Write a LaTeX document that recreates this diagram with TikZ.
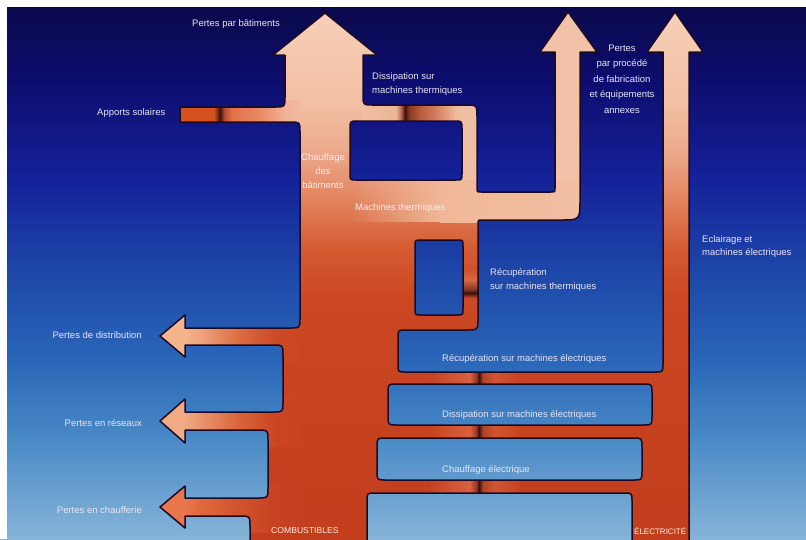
\documentclass[tikz,border=0pt]{standalone}
\usepackage{fontspec}
\setmainfont{Liberation Sans}
\usetikzlibrary{fadings}
% background colours (bottom -> top)
\definecolor{bgA}{HTML}{86B4D8}
\definecolor{bgB}{HTML}{4A8AC6}
\definecolor{bgC}{HTML}{2A66B8}
\definecolor{bgD}{HTML}{1E4AAA}
\definecolor{bgE}{HTML}{15229A}
\definecolor{bgF}{HTML}{0D0D6E}
\definecolor{bgG}{HTML}{0A0848}
% flow colours (bottom -> top)
\definecolor{cA}{HTML}{C23E1C}
\definecolor{cB}{HTML}{CB4722}
\definecolor{cC}{HTML}{D45A30}
\definecolor{cD}{HTML}{E2845E}
\definecolor{cE}{HTML}{ECAA8C}
\definecolor{cF}{HTML}{F2C0A4}
\definecolor{cG}{HTML}{F6CFB8}
\definecolor{peach}{HTML}{F2C2A8}
\definecolor{peachB}{HTML}{F0BEA2}
\definecolor{darkmark}{HTML}{3A1210}
\definecolor{outc}{HTML}{1C0A24}
\definecolor{labelc}{HTML}{E8E4F6}
\definecolor{labelw}{HTML}{FBEFEA}
% loss arrows
\definecolor{dA}{HTML}{F3B48C}\definecolor{dB}{HTML}{EFA47C}\definecolor{dC}{HTML}{DC6A40}\definecolor{dD}{HTML}{CC4A24}\definecolor{dE}{HTML}{CA4622}
\definecolor{rA}{HTML}{F0AA84}\definecolor{rB}{HTML}{EA9670}\definecolor{rC}{HTML}{D86238}\definecolor{rD}{HTML}{CA4622}\definecolor{rE}{HTML}{C84420}
\definecolor{hA}{HTML}{E8764A}\definecolor{hB}{HTML}{E06A3C}\definecolor{hC}{HTML}{D0522A}\definecolor{hD}{HTML}{C64220}\definecolor{hE}{HTML}{C44020}
% marks
\definecolor{sA}{HTML}{D4521E}\definecolor{sB}{HTML}{8A3018}\definecolor{sC}{HTML}{B04A30}\definecolor{sD}{HTML}{E07248}\definecolor{sE}{HTML}{E88A64}\definecolor{sF}{HTML}{F0B496}\definecolor{sG}{HTML}{F0BAA0}
\definecolor{tA}{HTML}{EDB496}\definecolor{tB}{HTML}{B8684A}\definecolor{tC}{HTML}{8A3A24}\definecolor{tD}{HTML}{B85A3C}\definecolor{tE}{HTML}{D88A6A}\definecolor{tF}{HTML}{EEB89C}
\definecolor{eA}{HTML}{C74320}\definecolor{eB}{HTML}{D86040}\definecolor{eC}{HTML}{9A3A24}\definecolor{eD}{HTML}{B04424}\definecolor{eE}{HTML}{D25430}
\definecolor{lA}{HTML}{CB4722}\definecolor{lB}{HTML}{C84A26}\definecolor{lC}{HTML}{D86840}\definecolor{lD}{HTML}{CF5028}
\definecolor{mB}{HTML}{F0B898}

\tikzfading[name=fadein, left color=transparent!100, right color=transparent!0]

\pgfdeclareverticalshading{bgshade}{100bp}{color(0bp)=(bgA); color(25bp)=(bgA); color(34.2bp)=(bgB); color(41.6bp)=(bgC); color(49bp)=(bgD); color(58.3bp)=(bgE); color(67.6bp)=(bgF); color(75bp)=(bgG); color(100bp)=(bgG)}
\pgfdeclareverticalshading{combshade}{100bp}{color(0bp)=(cA); color(25bp)=(cA); color(48bp)=(cB); color(52.7bp)=(cC); color(57.4bp)=(cD); color(62.1bp)=(cE); color(66.7bp)=(cF); color(75bp)=(cG); color(100bp)=(cG)}
\pgfdeclarehorizontalshading{distshade}{100bp}{color(0bp)=(dA); color(35.3bp)=(dA); color(40.5bp)=(dB); color(54.3bp)=(dC); color(66.4bp)=(dD); color(75bp)=(dE); color(100bp)=(dE)}
\pgfdeclarehorizontalshading{resshade}{100bp}{color(0bp)=(rA); color(35.3bp)=(rA); color(40.5bp)=(rB); color(54.3bp)=(rC); color(66.4bp)=(rD); color(75bp)=(rE); color(100bp)=(rE)}
\pgfdeclarehorizontalshading{chfshade}{100bp}{color(0bp)=(hA); color(35.3bp)=(hA); color(40.5bp)=(hB); color(54.3bp)=(hC); color(66.4bp)=(hD); color(75bp)=(hE); color(100bp)=(hE)}
\pgfdeclarehorizontalshading{solshade}{100bp}{color(0bp)=(sA); color(39.8bp)=(sA); color(41bp)=(sB); color(42.2bp)=(darkmark); color(43.9bp)=(sC); color(47.1bp)=(sD); color(58.6bp)=(sE); color(68.9bp)=(sF); color(75bp)=(sG); color(100bp)=(sG)}
\pgfdeclarehorizontalshading{disshade}{100bp}{color(0bp)=(peachB); color(25bp)=(peachB); color(41.7bp)=(tA); color(44.2bp)=(tB); color(46.2bp)=(darkmark); color(48.2bp)=(tC); color(53.8bp)=(tD); color(63.9bp)=(tE); color(71.5bp)=(tF); color(75bp)=(peachB); color(100bp)=(peachB)}
% electric marks over x 430..520 : pos = 25 + 50*(x-430)/90
\pgfdeclarehorizontalshading{elshade}{100bp}{color(0bp)=(eA); color(25bp)=(eA); color(47.2bp)=(eB); color(50.6bp)=(eC); color(52.2bp)=(darkmark); color(54.4bp)=(eD); color(61bp)=(eE); color(75bp)=(eA); color(100bp)=(eA)}
\pgfdeclareverticalshading{tlshade}{100bp}{color(0bp)=(lA); color(25bp)=(lA); color(35.5bp)=(lB); color(42.1bp)=(darkmark); color(47.4bp)=(tC); color(59.2bp)=(lC); color(75bp)=(lD); color(100bp)=(lD)}
\pgfdeclarehorizontalshading{mtshade}{100bp}{color(0bp)=(mB); color(25bp)=(mB); color(75bp)=(cF); color(100bp)=(cF)}

\newcommand{\cmbouter}{(250,545) -- (250,526) .. controls (250,516) .. (240,516)
 -- (185,516) -- (185,528) -- (160,507) -- (185,486) -- (185,498)
 -- (258,498) .. controls (268,498) .. (268,488)
 -- (268,440) .. controls (268,430) .. (258,430)
 -- (185,430) -- (185,443) -- (160,421) -- (185,399) -- (185,412)
 -- (273,412) .. controls (283,412) .. (283,402)
 -- (283,355) .. controls (283,345) .. (273,345)
 -- (185,345) -- (185,357) -- (160,336) -- (185,315) -- (185,328)
 -- (290,328) .. controls (300,328) .. (300,318)
 -- (300,132) .. controls (300,122) .. (290,122)
 -- (180,122) -- (180,107)
 -- (275,107) .. controls (285,107) .. (285,97)
 -- (285,55) -- (273,55) -- (325,13) -- (377,55) -- (363,55)
 -- (363,95) .. controls (363,105) .. (373,105)
 -- (465,105) .. controls (477,105) .. (477,117)
 -- (477,188) .. controls (477,192) .. (481,192)
 -- (551,192) .. controls (555,192) .. (555,188)
 -- (555,52) -- (540,52) -- (568,12) -- (597,52) -- (580,52)
 -- (580,200) .. controls (580,220) .. (560,220)
 -- (482,220) .. controls (478,220) .. (478,224)
 -- (478,318) .. controls (478,330) .. (466,330)
 -- (406,330) .. controls (398,330) .. (398,338)
 -- (398,364) .. controls (398,372) .. (406,372)
 -- (655,372) .. controls (663,372) .. (663,364)
 -- (663,52) -- (647,52) -- (675,12) -- (703,52) -- (689,52)
 -- (689,545) -- (632,545)
 -- (632,501) .. controls (632,493) .. (624,493)
 -- (375,493) .. controls (367,493) .. (367,501)
 -- (367,545) -- cycle}
\newcommand{\cmbholes}{(358,121) -- (454,121) .. controls (462,121) .. (462,129) -- (462,174) .. controls (462,180) .. (456,180) -- (356,180) .. controls (350,180) .. (350,174) -- (350,129) .. controls (350,121) .. (358,121) -- cycle
 (421,240) -- (457,240) .. controls (463,240) .. (463,246) -- (463,309) .. controls (463,315) .. (457,315) -- (421,315) .. controls (415,315) .. (415,309) -- (415,246) .. controls (415,240) .. (421,240) -- cycle
 (397,384) -- (643,384) .. controls (652,384) .. (652,393) -- (652,416) .. controls (652,425) .. (643,425) -- (397,425) .. controls (388,425) .. (388,416) -- (388,393) .. controls (388,384) .. (397,384) -- cycle
 (386,438) -- (633,438) .. controls (642,438) .. (642,447) -- (642,471) .. controls (642,480) .. (633,480) -- (386,480) .. controls (377,480) .. (377,471) -- (377,447) .. controls (377,438) .. (386,438) -- cycle}

\begin{document}
\begin{tikzpicture}[x=1pt,y=-1pt,
  lbl/.style={text=labelc, font=\fontsize{9.5}{14}\selectfont, inner sep=0pt},
  inlbl/.style={text=labelw, font=\fontsize{9.5}{14}\selectfont, inner sep=0pt},
  outl/.style={draw=outc, line width=1.5pt, line join=round}]
\useasboundingbox (0,0) rectangle (806,539);
\clip (0,0) rectangle (806,539);
% background
\shade[shading=bgshade] (0,0) rectangle (806,539);
% flows
\shade[shading=combshade] \cmbouter;
\begin{scope}
  \clip \cmbholes;
  \shade[shading=bgshade] (0,0) rectangle (806,539);
\end{scope}
\begin{scope}
  \clip \cmbouter;
  \shade[shading=distshade] (155,310) rectangle (300,362);
  \shade[shading=resshade] (155,396) rectangle (300,446);
  \shade[shading=chfshade] (155,482) rectangle (300,532);
  \shade[shading=solshade] (178,100) rectangle (300,125);
  \shade[shading=disshade] (363,103) rectangle (462,121);
  \fill[peachB] (462,100) rectangle (482,181);
  \fill[peach] (535,8) rectangle (600,181);
  % machines thermiques band: fade in from the trunk colour to peach
  \fill[mB, path fading=fadein] (350,180) rectangle (441,222);
  \shade[shading=mtshade] (440,180) rectangle (600,222);
  \shade[shading=tlshade] (463,268) rectangle (478,306);
  \shade[shading=elshade] (430,372) rectangle (520,384);
  \shade[shading=elshade] (430,425) rectangle (520,438);
  \shade[shading=elshade] (430,480) rectangle (520,493);
\end{scope}
\draw[outl] \cmbouter;
\draw[outl] \cmbholes;
% scan margins
\fill[white] (0,0) rectangle (806,7);
\fill[white] (0,0) rectangle (7,539);
% labels
\node[lbl, anchor=west] (tBat) at (192,24) {Pertes par bâtiments};
\node[lbl, anchor=west] (tSol) at (97,113) {Apports solaires};
\node[lbl, anchor=west, align=left] (tDis) at (372,84) {Dissipation sur\\machines thermiques};
\node[lbl, anchor=center, align=center, font=\fontsize{9.5}{15.5}\selectfont] (tProc) at (622,79) {Pertes\\par procédé\\de fabrication\\et équipements\\annexes};
\node[inlbl, anchor=center, align=center] (tChB) at (323,171) {Chauffage\\des\\bâtiments};
\node[inlbl, anchor=west] (tMT) at (355,208) {Machines thermiques};
\node[lbl, anchor=west, align=left] (tRecT) at (490,280) {Récupération\\sur machines thermiques};
\node[lbl, anchor=west, align=left, font=\fontsize{9.5}{13}\selectfont] (tEcl) at (702,247) {Eclairage et\\machines électriques};
\node[lbl, anchor=east] (tDist) at (142,335) {Pertes de distribution};
\node[lbl, anchor=east] (tRes) at (142,423) {Pertes en réseaux};
\node[lbl, anchor=east] (tChf) at (142,510) {Pertes en chaufferie};
\node[lbl, anchor=west] (tRecE) at (442,359) {Récupération sur machines électriques};
\node[lbl, anchor=west] (tDisE) at (442,415) {Dissipation sur machines électriques};
\node[lbl, anchor=west] (tChE) at (442,470) {Chauffage électrique};
\node[inlbl, anchor=west, font=\fontsize{8.6}{10}\selectfont] (tComb) at (271,531) {COMBUSTIBLES};
\node[inlbl, anchor=west, font=\fontsize{8}{10}\selectfont] (tElec) at (634,531) {ÉLECTRICITÉ};
\end{tikzpicture}
\end{document}
